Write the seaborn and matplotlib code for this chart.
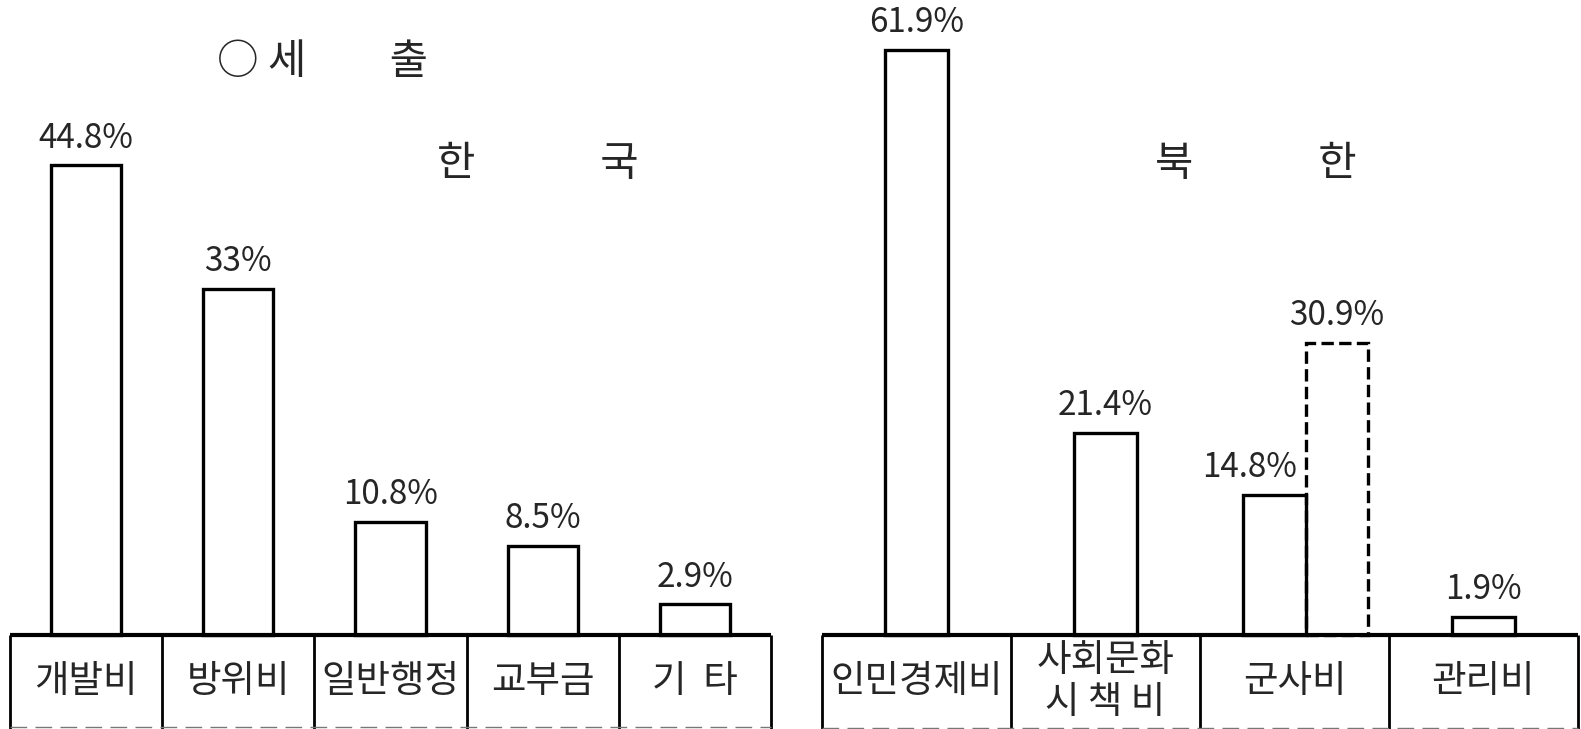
import numpy as np
import matplotlib
matplotlib.use('Agg')
import matplotlib.pyplot as plt
import seaborn as sns

# 세출 구성비 (%)
kr_cats = ['개발비', '방위비', '일반행정', '교부금', '기  타']
kr_vals = [44.8, 33, 10.8, 8.5, 2.9]
kr_labels = ['44.8%', '33%', '10.8%', '8.5%', '2.9%']

nk_cats = ['인민경제비', '사회문화\n시 책 비', '군사비', '관리비']
nk_vals = [61.9, 21.4, 14.8, 1.9]
nk_labels = ['61.9%', '21.4%', '14.8%', '1.9%']
nk_mil_alt = 30.9          # 군사비 (점선)
nk_mil_alt_label = '30.9%'

sns.set_theme(style='white')
plt.rcParams['font.family'] = ['Noto Sans CJK KR', 'DejaVu Sans']

fig = plt.figure(figsize=(15.81, 7.29), dpi=100)
ax1 = fig.add_axes([10 / 1581, 0, 761 / 1581, 1])
ax2 = fig.add_axes([822 / 1581, 0, 756 / 1581, 1])


def draw_table(ax, cats, bottom):
    n = len(cats)
    ax.set_xlim(-0.5, n - 0.5)
    ax.hlines(0, -0.5, n - 0.5, color='black', lw=3, clip_on=False)
    ax.vlines(np.arange(n + 1) - 0.5, bottom, 0, color='black', lw=2, clip_on=False)
    ax.hlines(bottom + 0.15, -0.5, n - 0.5, color='#777777', lw=1,
              linestyle=(0, (12, 6)), clip_on=False)
    for i, c in enumerate(cats):
        ax.text(i, bottom / 2, c, ha='center', va='center', fontsize=27,
                linespacing=1.1)
    ax.set_axis_off()


# 한국
sns.barplot(x=kr_cats, y=kr_vals, order=kr_cats, fill=False, color='black',
            linewidth=2.4, width=0.46, errorbar=None, ax=ax1)
ax1.set_ylim(-9.0, 60.6)
draw_table(ax1, kr_cats, -9.0)
ax1.bar_label(ax1.containers[0], labels=kr_labels, padding=7, fontsize=24)

# 북한
w = 0.33
sns.barplot(x=nk_cats, y=nk_vals, order=nk_cats, fill=False, color='black',
            linewidth=2.4, width=w, errorbar=None, ax=ax2)
mil = ax2.containers[0].patches[2]
mil.set_x(mil.get_x() - w / 2 + 0.06)
ax2.set_ylim(-9.95, 67.2)
draw_table(ax2, nk_cats, -9.95)
nk_texts = ax2.bar_label(ax2.containers[0], labels=nk_labels, padding=7, fontsize=24)
# 14.8% 라벨은 점선 막대 왼쪽으로
nk_texts[2].xyann = (-18, 7)
alt = ax2.bar(2 + w / 2 + 0.06, nk_mil_alt, width=w, fill=False, edgecolor='black',
              linestyle='--', linewidth=2.4)
ax2.bar_label(alt, labels=[nk_mil_alt_label], padding=7, fontsize=24)

fig.text(0.204, 0.914, '○ 세\u3000\u3000출', ha='center', va='center', fontsize=30)
fig.text(0.340, 0.775, '한\u3000\u3000\u3000국', ha='center', va='center', fontsize=30)
fig.text(0.794, 0.775, '북\u3000\u3000\u3000한', ha='center', va='center', fontsize=30)

fig.savefig('out.png', dpi=100)
